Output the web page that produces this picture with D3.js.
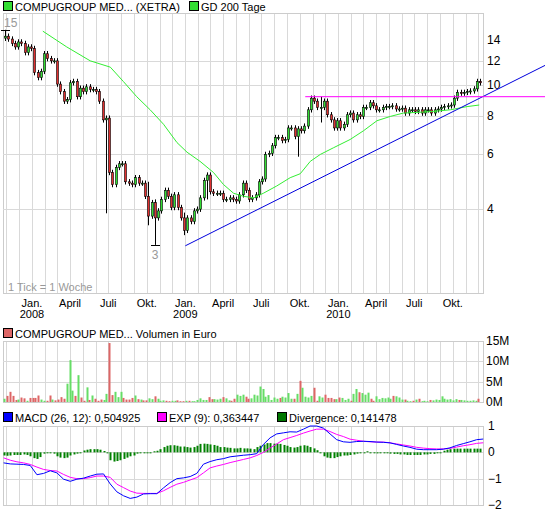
<!DOCTYPE html>
<html><head><meta charset="utf-8">
<script src="https://cdn.jsdelivr.net/npm/d3@7"></script>
<style>body{margin:0;background:#fff}svg{display:block;font-family:"Liberation Sans",Arial,sans-serif}</style>
</head><body><svg id="c" width="545" height="514"></svg>
<script>
// ---- data ----
const startDate = "2007-10-29";          // week 0
const lastWeek = 161.9;                   // last candle week index
const closes = [14.4,14.1,13.65,13.3,13.8,13.65,12.75,13.3,13.15,11.0,10.6,11.1,12.65,12.2,12.0,12.0,10.1,9.55,8.9,9.0,
10.2,10.3,9.2,9.8,9.55,9.9,9.7,9.7,9.55,8.9,7.75,7.85,5.25,4.8,5.45,5.6,5.6,4.9,4.85,4.8,5.05,4.85,4.85,4.4,3.8,4.2,
3.75,3.95,4.3,4.6,4.4,4.05,4.45,4.05,3.75,3.42,3.75,3.65,3.95,4.0,4.35,4.95,5.15,4.55,4.5,4.5,4.5,4.3,4.3,4.35,4.3,4.25,
4.45,4.85,4.6,4.3,4.35,4.45,4.9,5.0,6.0,6.05,6.4,6.8,6.8,6.65,6.7,7.3,7.3,6.85,7.25,7.15,7.4,8.35,9.1,8.9,8.5,8.5,8.9,
8.05,7.75,7.3,7.7,7.3,7.5,8.05,8.15,7.75,8.05,7.95,8.5,8.5,8.8,8.6,8.35,8.35,8.5,8.55,8.55,8.6,8.4,8.4,8.45,8.15,8.35,
8.35,8.25,8.35,8.15,8.35,8.35,8.15,8.35,8.4,8.5,8.55,8.6,8.65,9.1,9.5,9.45,9.5,9.55,9.6,9.75,10.3,10.2];
const firstOpen = 14.2;
// long wicks: [candle index, high, low]
const wicks = [[0,15.1,13.9],[31,8.0,3.88],[46,4.3,3.07],[55,3.9,3.3],[44,4.9,3.55],[90,7.3,5.9],[97,9.2,7.6],[62,5.25,4.3]];
const maDates = ["2008-01-27","2008-03-24","2008-05-19","2008-07-06","2008-08-06","2008-09-07","2008-10-09","2008-11-10","2008-12-12","2009-01-05","2009-02-05","2009-03-09","2009-04-02","2009-04-26","2009-05-20","2009-06-13","2009-07-06","2009-08-07","2009-09-08","2009-10-02","2009-10-26","2009-11-19","2009-12-20","2010-01-29","2010-03-02","2010-04-03","2010-05-05","2010-06-05","2010-07-15","2010-08-16","2010-09-25","2010-11-04","2010-12-03"];
const maValues = [14.95,13.3,12.0,11.45,10.3,9.2,8.35,7.5,6.55,6.1,5.7,5.25,4.8,4.5,4.4,4.35,4.5,4.75,5.05,5.2,5.7,6.0,6.3,6.7,7.15,7.7,7.95,8.15,8.2,8.25,8.35,8.55,8.65];
const trendDates = ["2009-01-01","2011-05-09"], trendValues = [3.05,11.6];
const resistDates = ["2009-10-14","2011-05-09"], resistValues = [9.2,9.2];
const priceTicks = [4,6,8,10,12,14];
const volumes = [0.8,1.5,2.5,1.5,0.5,0.6,1.1,0.9,0.3,1,1,1,1.6,0.6,0.3,0.3,1.6,0.6,0.4,0.6,1.2,0.8,4.5,10.3,2.8,1.5,6.6,1.1,0.3,3.6,
0.5,1.6,0.8,0.3,0.6,0.5,2,14.5,1.7,2.5,1.2,2.5,1.0,0.6,0.6,1,1.6,0.7,0.6,0.4,0.4,0.9,0.7,1.4,0.8,0.3,0.4,0.3,0.2,0.3,
0.3,0.4,0.2,0.2,0.3,0.3,0.2,0.2,0.5,0.9,0.5,0.5,1.2,0.7,0.7,0.6,0.8,1.2,0.9,0.4,0.3,0.8,1.8,1.5,1.8,1.3,0.8,0.9,1.8,1.6,
3.8,3.2,1.3,1.7,0.5,1.1,0.8,1,1.3,1.1,2.2,0.8,0.8,2,5.2,3.5,1.3,1.1,1.5,3.5,0.3,1.4,1.1,1.8,1.0,1.0,0.7,0.7,1.1,1.0,
0.5,0.8,0.3,2,3.2,2.4,2.2,1.8,2.3,0.8,0.3,1.4,0.7,1,0.9,1.1,0.8,1.5,1.4,1.1,0.6,0.6,0.3,0.2,0.3,0.6,0.8,0.2,0.3,0.2,
0.5,0.4,0.6,0.5,1.4,0.8,0.6,0.7,0.4,0.7,0.5,0.5,0.4,0.3,0.3,0.4,0.3,0.8];
const volTicks = [0,5,10,15];
const macdStart = -0.5, macdStep = 2.27;
const macd = [-0.4,-0.44,-0.45,-0.46,-0.5,-0.85,-0.8,-0.7,-0.78,-1.02,-1.1,-1.02,-0.98,-0.9,-0.83,-0.82,-1.2,-1.5,-1.65,-1.75,-1.7,-1.58,-1.57,-1.57,-1.35,-1.15,-1.0,-0.97,-0.92,-0.8,-0.45,-0.35,-0.28,-0.24,-0.17,-0.14,-0.11,-0.09,-0.05,0.3,0.55,0.7,0.74,0.78,0.77,0.88,1.0,1.0,0.92,0.7,0.48,0.4,0.38,0.41,0.42,0.41,0.39,0.38,0.36,0.3,0.24,0.19,0.12,0.1,0.1,0.1,0.12,0.17,0.26,0.33,0.4,0.48,0.505];
const signal = [-0.21,-0.3,-0.36,-0.4,-0.46,-0.56,-0.65,-0.69,-0.71,-0.84,-0.95,-1.0,-1.0,-0.96,-0.9,-0.9,-0.95,-1.21,-1.34,-1.47,-1.55,-1.56,-1.56,-1.56,-1.46,-1.33,-1.21,-1.14,-1.05,-0.96,-0.78,-0.59,-0.52,-0.46,-0.39,-0.33,-0.27,-0.21,-0.12,0.0,0.16,0.32,0.48,0.56,0.64,0.73,0.81,0.88,0.88,0.79,0.68,0.6,0.5,0.46,0.42,0.4,0.39,0.39,0.36,0.32,0.28,0.24,0.19,0.16,0.14,0.13,0.13,0.15,0.2,0.25,0.29,0.34,0.363];
const divStart = -0.5, divStep = 1.136;
const divergence = [-0.12,-0.13,-0.12,-0.1,-0.1,-0.1,-0.08,-0.1,-0.15,-0.22,-0.25,-0.18,-0.05,0,0,-0.05,-0.15,-0.2,-0.22,-0.2,-0.12,-0.08,-0.05,0,0.07,0.1,0.12,0.12,0.12,0.1,0.05,-0.03,-0.3,-0.35,-0.33,-0.3,-0.25,-0.2,-0.15,-0.12,-0.05,0,-0.03,0,0,0.04,0.06,0.12,0.2,0.25,0.27,0.27,0.25,0.22,0.22,0.2,0.18,0.2,0.25,0.32,0.33,0.32,0.3,0.28,0.25,0.2,0.2,0.18,0.17,0.15,0.15,0.17,0.15,0.15,0.14,0.12,0.2,0.25,0.3,0.35,0.35,0.33,0.33,0.32,0.28,0.25,0.2,0.18,0.2,0.25,0.27,0.25,0.2,0.15,0.08,0,-0.15,-0.2,-0.22,-0.22,-0.18,-0.15,-0.12,-0.12,-0.1,-0.08,-0.05,-0.03,0,0.04,0,0,-0.04,0,0,0,-0.05,-0.06,-0.06,-0.08,-0.08,-0.1,-0.1,-0.1,-0.1,-0.1,-0.08,-0.08,-0.06,-0.06,0,0,0.06,0.1,0.12,0.14,0.14,0.14,0.14,0.14,0.14,0.14,0.14,0.14];
const macdTicks = [1,0,-1,-2];
const monthNames = {0:"Jan.",3:"April",6:"Juli",9:"Okt."};

// ---- layout ----
const L=3,R=483;
const svg=d3.select("#c");
const x=d3.scaleTime().domain([new Date("2007-10-24"),new Date("2010-12-12")]).range([L,R]);
const day=864e5, t0=new Date(startDate).getTime();
const wk=w=>new Date(t0+w*7*day);
const grid="#d9d9d9";
const months=d3.timeMonth.range(new Date("2007-11-01"),new Date("2010-12-12"));

function panel(top,bot){
  const g=svg.append("g");
  g.selectAll("line.v").data(months).join("line").attr("x1",d=>Math.round(x(d))+.5).attr("x2",d=>Math.round(x(d))+.5)
   .attr("y1",top).attr("y2",bot).attr("stroke",grid);
  g.append("rect").attr("x",L+.5).attr("y",top+.5).attr("width",R-L).attr("height",bot-top).attr("fill","none").attr("stroke","#ccc");
  return g;
}
function legend(items,y){
  items.forEach(([lx,col,txt])=>{
    svg.append("rect").attr("x",lx+.5).attr("y",y-9.5).attr("width",9).attr("height",9).attr("fill",col).attr("stroke","#000");
    svg.append("text").attr("x",lx+12).attr("y",y).attr("font-size",11).text(txt);
  });
}
// price panel
const PT=13,PB=293;
const y=d3.scaleLog().domain([2.15,17.1]).range([PB,PT]);
const pg=panel(PT,PB);
pg.selectAll("line.h").data(priceTicks.filter(d=>d<14)).join("line").attr("x1",L).attr("x2",R)
  .attr("y1",d=>Math.round(y(d))+.5).attr("y2",d=>Math.round(y(d))+.5).attr("stroke",grid);
svg.append("g").selectAll("text").data(priceTicks).join("text").attr("x",487).attr("y",d=>y(d)+4)
  .attr("font-size",12).text(d=>d);
legend([[3,"#33dd33","COMPUGROUP MED... (XETRA)"],[189,"#33dd33","GD 200 Tage"]],11);

const n=closes.length;
const candles=closes.map((c,i)=>{const o=i?closes[i-1]:firstOpen;return {w:i*lastWeek/(n-1),o,c,h:Math.max(o,c)*1.02,l:Math.min(o,c)*0.98};});
wicks.forEach(([i,h,l])=>{candles[i].h=Math.max(h,candles[i].h);candles[i].l=Math.min(l,candles[i].l);});
const cg=svg.append("g");
candles.forEach(d=>{
  const cx=Math.round(x(wk(d.w)));
  cg.append("line").attr("x1",cx+.5).attr("x2",cx+.5).attr("y1",y(d.h)).attr("y2",y(d.l)).attr("stroke","#000");
  const yt=y(Math.max(d.o,d.c)),yb=y(Math.min(d.o,d.c));
  cg.append("rect").attr("x",cx-.5).attr("y",yt).attr("width",2).attr("height",Math.max(1,yb-yt))
    .attr("fill",d.c>=d.o?"#33dd33":"#e03030").attr("stroke","#000").attr("stroke-width",0.6);
});
// MA
svg.append("path").datum(maDates.map((d,i)=>[new Date(d),maValues[i]])).attr("fill","none").attr("stroke","#33ee33")
  .attr("d",d3.line().x(d=>x(d[0])).y(d=>y(d[1])));
const tl=d3.line().x(d=>x(new Date(d[0]))).y(d=>y(d[1]));
svg.append("path").attr("d",tl(trendDates.map((d,i)=>[d,trendValues[i]]))).attr("stroke","#0000dd").attr("fill","none");
svg.append("path").attr("d",tl(resistDates.map((d,i)=>[d,resistValues[i]]))).attr("stroke","#ff00ff").attr("fill","none");
// hi/lo marks
const hi=candles.reduce((a,b)=>b.h>a.h?b:a), lo=candles.reduce((a,b)=>b.l<a.l?b:a);
[[hi,hi.h,"15"],[lo,lo.l,"3"]].forEach(([d,v,t],k)=>{
  const cx=Math.round(x(wk(d.w)));
  svg.append("line").attr("x1",cx-4).attr("x2",cx+5).attr("y1",Math.round(y(v))+.5).attr("y2",Math.round(y(v))+.5).attr("stroke","#000");
  svg.append("text").attr("x",k?cx:4).attr("y",k?y(v)+14:y(v)-3).attr("text-anchor",k?"middle":"start").attr("font-size",12).attr("fill","#999").text(t);
});
svg.append("text").attr("x",8).attr("y",291).attr("font-size",11).attr("fill","#999").text("1 Tick = 1 Woche");
// x labels
const lbl=months.filter(m=>monthNames[m.getMonth()]!==undefined);
svg.append("g").selectAll("text").data(lbl).join("text").attr("x",d=>x(d)).attr("y",307).attr("text-anchor","middle")
  .attr("font-size",11).text(d=>monthNames[d.getMonth()]);
svg.append("g").selectAll("text").data(lbl.filter(d=>d.getMonth()===0)).join("text").attr("x",d=>x(d)).attr("y",318).attr("text-anchor","middle")
  .attr("font-size",11).text(d=>d.getFullYear());

// volume
const VT=341,VB=402;
const yv=d3.scaleLinear().domain([0,15]).range([VB,VT]);
const vg=panel(VT,VB);
vg.selectAll("line.h").data(volTicks.slice(1,3)).join("line").attr("x1",L).attr("x2",R)
  .attr("y1",d=>Math.round(yv(d))+.5).attr("y2",d=>Math.round(yv(d))+.5).attr("stroke",grid);
svg.append("g").selectAll("text").data(volTicks).join("text").attr("x",486).attr("y",d=>yv(d)+4).attr("font-size",12).text(d=>d+"M");
legend([[3,"#dd6666","COMPUGROUP MED... Volumen in Euro"]],338);
const nv=volumes.length;
svg.append("g").selectAll("rect").data(volumes).join("rect")
  .attr("x",(d,i)=>Math.round(x(wk(-0.3+i*161.6/(nv-1))))-0.5).attr("width",2)
  .attr("y",d=>yv(d)).attr("height",d=>VB-yv(d))
  .attr("fill",(d,i)=>{const k=Math.round(i*(n-1)/(nv-1));const c=candles[k];return c.c>=c.o?"#66dd66":"#dd6666";});

// MACD
const MT=426,MB=505;
const ym=d3.scaleLinear().domain([-2,1]).range([MB,MT]);
const mg=panel(MT,MB);
mg.selectAll("line.h").data([0,-1]).join("line").attr("x1",L).attr("x2",R)
  .attr("y1",d=>Math.round(ym(d))+.5).attr("y2",d=>Math.round(ym(d))+.5).attr("stroke",grid);
svg.append("g").selectAll("text").data(macdTicks).join("text").attr("x",488).attr("y",d=>ym(d)+4).attr("font-size",12).text(d=>d<0?"\u2212"+(-d):d);
legend([[3,"#0000ff","MACD (26, 12): 0,504925"],[157,"#ff00ff","EXP (9): 0,363447"],[277,"#007700","Divergence: 0,141478"]],422);
svg.append("g").selectAll("rect").data(divergence).join("rect")
  .attr("x",(d,i)=>Math.round(x(wk(divStart+i*divStep)))-0.5).attr("width",2)
  .attr("y",d=>Math.min(ym(d),ym(0))).attr("height",d=>Math.max(1,Math.abs(ym(d)-ym(0))))
  .attr("fill","#008000");
const ml=d3.line().x((d,i)=>x(wk(macdStart+i*macdStep))).y(d=>ym(d));
svg.append("path").attr("d",ml(signal)).attr("stroke","#ff00ff").attr("fill","none");
svg.append("path").attr("d",ml(macd)).attr("stroke","#0000ff").attr("fill","none");
</script></body></html>
